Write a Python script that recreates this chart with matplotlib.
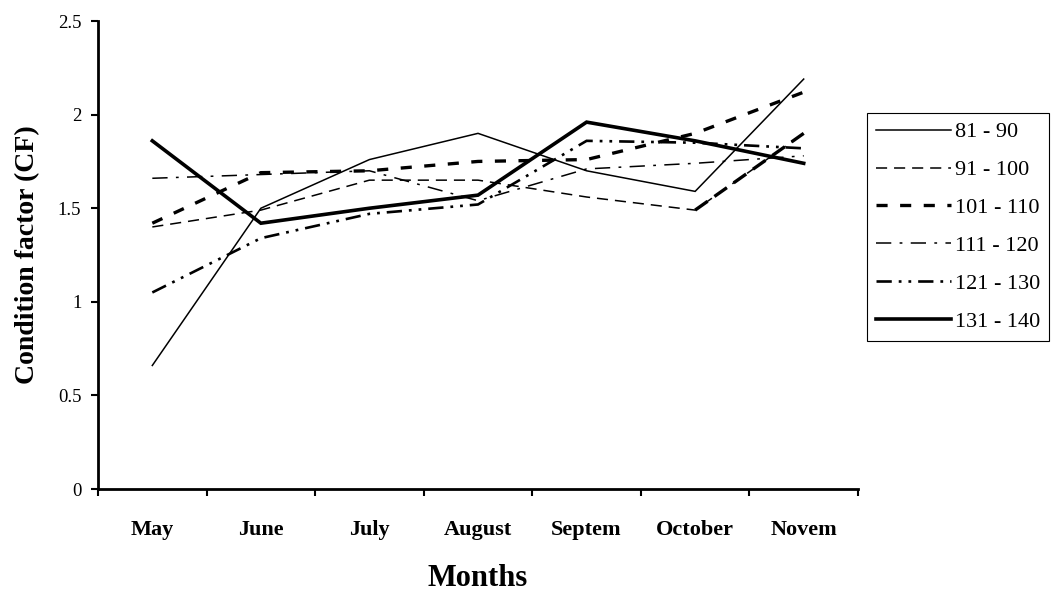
import matplotlib.pyplot as plt
import numpy as np

months = ['May', 'June', 'July', 'August', 'Septem', 'October', 'Novem']
size_classes = ['81 - 90', '91 - 100', '101 - 110', '111 - 120', '121 - 130', '131 - 140']

cf_81_90 = [0.66, 1.50, 1.76, 1.90, 1.70, 1.59, 2.19]
cf_91_100 = [1.40, 1.49, 1.65, 1.65, 1.56, 1.49, 1.90]
cf_101_110 = [1.42, 1.69, 1.70, 1.75, 1.76, 1.90, 2.12]
cf_111_120 = [1.66, 1.68, 1.70, 1.54, 1.71, 1.74, 1.78]
cf_121_130 = [1.05, 1.34, 1.47, 1.52, 1.86, 1.85, 1.82]
cf_131_140 = [1.86, 1.42, 1.50, 1.57, 1.96, 1.86, 1.74]

series = [cf_81_90, cf_91_100, cf_101_110, cf_111_120, cf_121_130, cf_131_140]

plt.rcParams['font.family'] = ['Liberation Serif', 'DejaVu Serif']
plt.rcParams['lines.scale_dashes'] = False

# black & white line styles, one per length class
styles = [
    dict(lw=1.1, ls='-'),
    dict(lw=1.1, ls=(0, (8, 5))),
    dict(lw=2.4, ls=(0, (8, 9))),
    dict(lw=1.1, ls=(0, (11, 6, 2, 6))),
    dict(lw=1.9, ls=(0, (11, 5, 2, 5, 2, 5))),
    dict(lw=2.6, ls='-'),
]

fig = plt.figure(figsize=(10.53, 5.96), dpi=100)
ax = fig.add_axes([0.0931, 0.1795, 0.7217, 0.7852])

x = np.arange(len(months))
for vals, label, st in zip(series, size_classes, styles):
    ax.plot(x, vals, color='black', label=label, solid_joinstyle='miter',
            dash_joinstyle='miter', **st)

# last 91-100 segment is drawn heavier
ax.plot(x[-2:], cf_91_100[-2:], color='black', lw=2.4, ls=(0, (11, 6)))

ax.set_xlim(-0.5, len(months) - 0.5)
ax.set_ylim(0, 2.5)
ax.set_yticks(np.arange(0, 2.51, 0.5))
ax.set_yticklabels(['0', '0.5', '1', '1.5', '2', '2.5'], fontsize=13.5)

# category boundaries carry the tick marks, names sit between them
ax.set_xticks(np.arange(-0.5, len(months)))
ax.set_xticklabels([])
ax.set_xticks(x, months, minor=True, fontsize=16, fontweight='bold')
ax.tick_params(axis='x', which='major', direction='out', length=5, width=1.5)
ax.tick_params(axis='x', which='minor', length=0, pad=22)
ax.tick_params(axis='y', direction='out', length=5, width=1.5, pad=7)

for side in ['top', 'right']:
    ax.spines[side].set_visible(False)
for side in ['left', 'bottom']:
    ax.spines[side].set_linewidth(2)

fig.text(0.026, 0.572, 'Condition factor (CF)', rotation=90, ha='center', va='center',
         fontsize=20, fontweight='bold')
fig.text(0.454, 0.03, 'Months', ha='center', va='center', fontsize=22, fontweight='bold')

leg = ax.legend(loc='upper left', bbox_to_anchor=(867 / 1053, 1 - 113 / 596),
                bbox_transform=fig.transFigure, borderaxespad=0, fontsize=16,
                handlelength=3.4, handletextpad=0.15, labelspacing=0.78,
                borderpad=0.4, fancybox=False, edgecolor='black', framealpha=1)
leg.get_frame().set_linewidth(0.8)

fig.savefig('out.png', dpi=100)
